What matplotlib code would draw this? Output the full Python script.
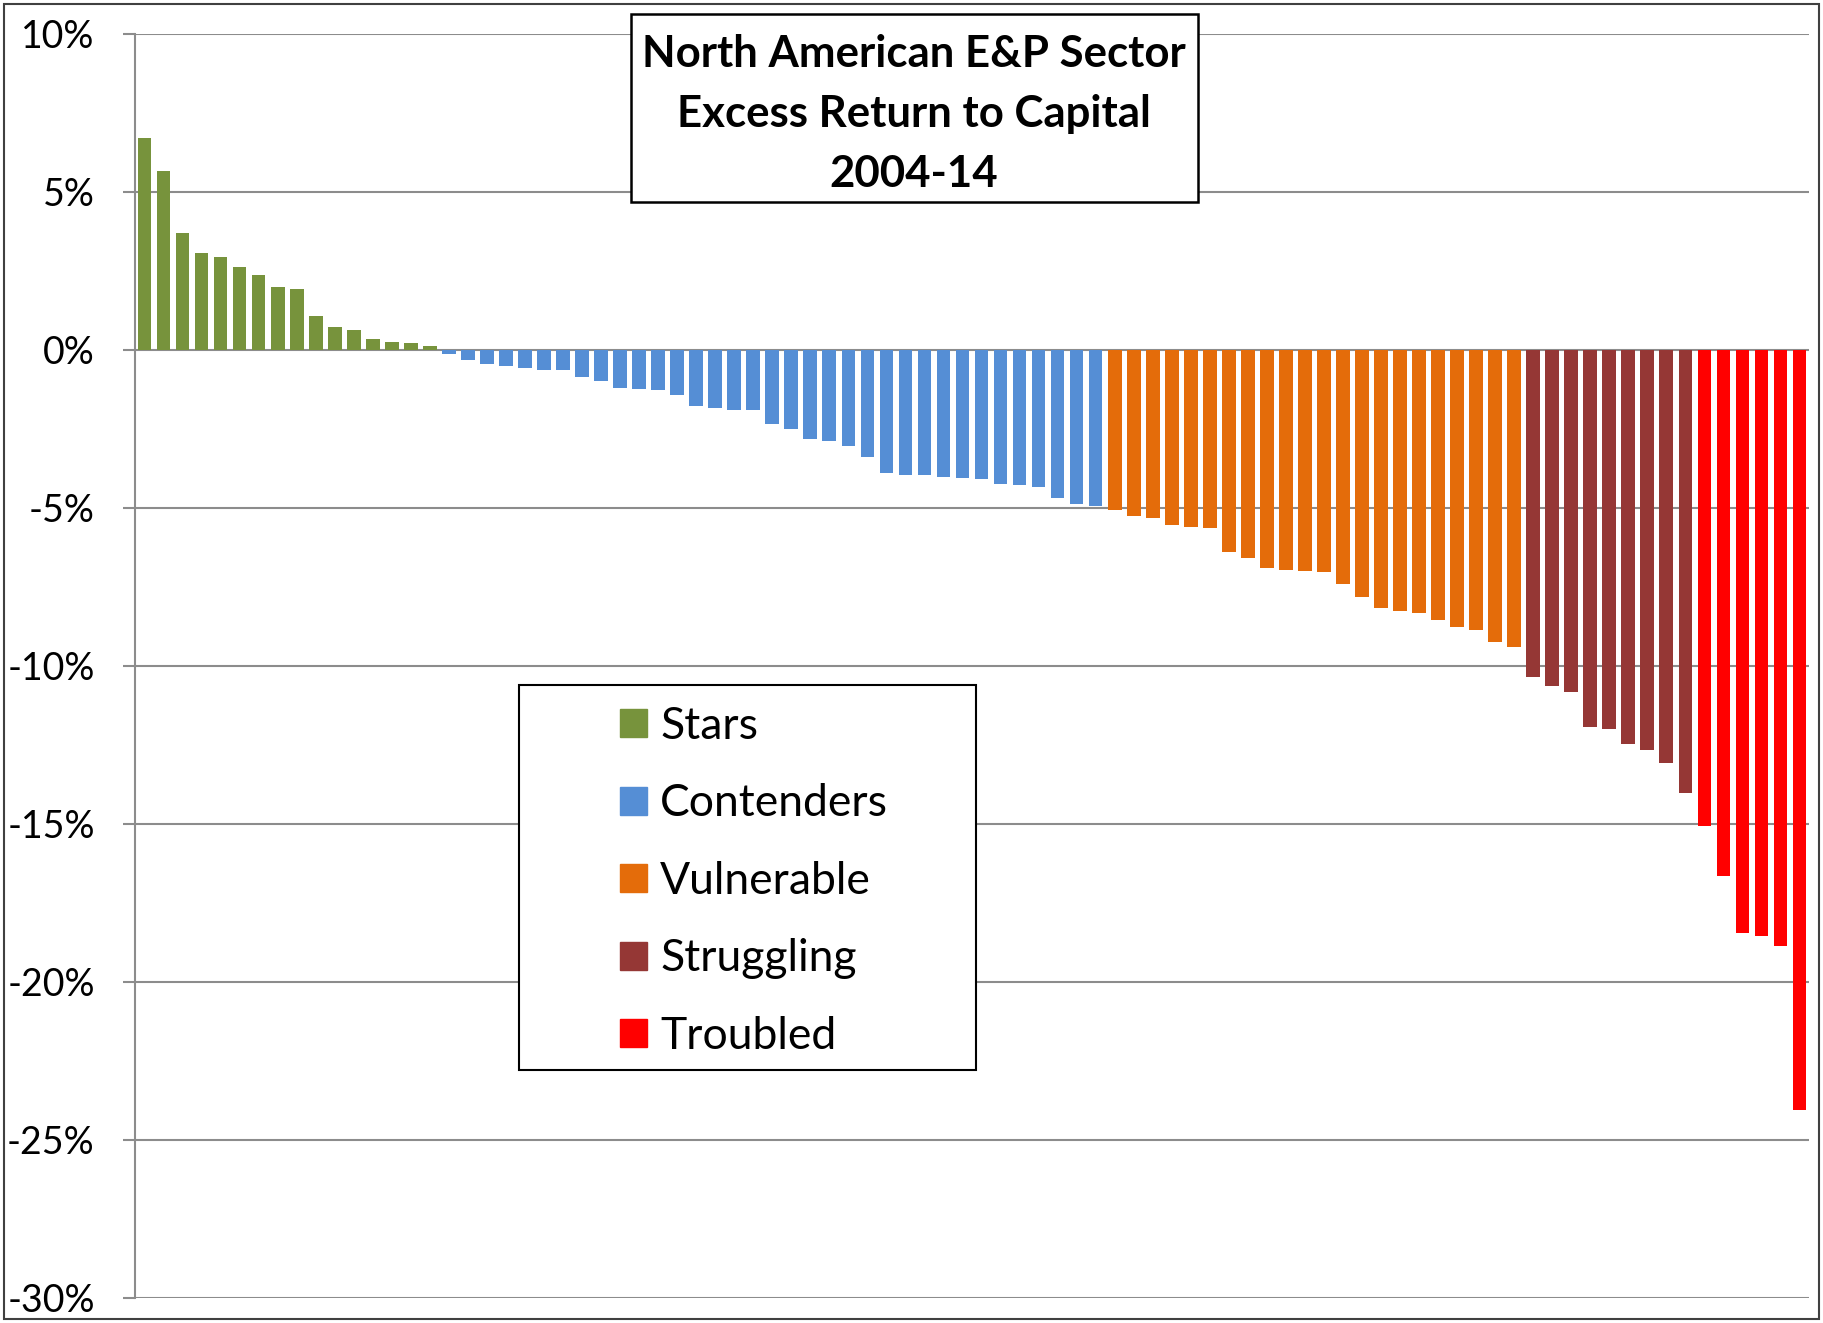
import matplotlib.pyplot as plt
import matplotlib.patches as mpatches
import numpy as np

plt.rcParams['font.family'] = ['Lato', 'DejaVu Sans']
plt.rcParams['axes.unicode_minus'] = False

# excess return to capital (%), sorted, per group
stars = [6.71, 5.65, 3.71, 3.07, 2.93, 2.64, 2.37, 1.98, 1.92, 1.09, 0.73, 0.63,
         0.34, 0.25, 0.22, 0.14]
contenders = [-0.14, -0.33, -0.44, -0.52, -0.56, -0.63, -0.64, -0.85, -0.97, -1.21,
              -1.22, -1.25, -1.42, -1.77, -1.85, -1.90, -1.91, -2.35, -2.51, -2.82,
              -2.87, -3.03, -3.40, -3.90, -3.94, -3.97, -4.02, -4.06, -4.09, -4.25,
              -4.28, -4.35, -4.67, -4.86, -4.93]
vulnerable = [-5.06, -5.25, -5.31, -5.54, -5.61, -5.64, -6.39, -6.58, -6.89, -6.95,
              -6.99, -7.04, -7.42, -7.83, -8.16, -8.26, -8.32, -8.55, -8.76, -8.87,
              -9.25, -9.41]
struggling = [-10.36, -10.62, -10.81, -11.94, -11.98, -12.48, -12.67, -13.07, -14.03]
troubled = [-15.07, -16.66, -18.46, -18.54, -18.85, -24.05]

groups = ['Stars', 'Contenders', 'Vulnerable', 'Struggling', 'Troubled']
group_vals = [stars, contenders, vulnerable, struggling, troubled]
colors = ['#77933C', '#558ED5', '#E46C0A', '#953735', '#FF0000']

yticks = [10, 5, 0, -5, -10, -15, -20, -25, -30]

fig = plt.figure(figsize=(18.23, 13.23), dpi=100)
ax = fig.add_axes([135 / 1823, 1 - 1298 / 1323, (1809 - 135) / 1823, (1298 - 34) / 1323])

start = 0
handles = []
for name, vals, c in zip(groups, group_vals, colors):
    x = np.arange(start, start + len(vals))
    ax.bar(x, vals, width=0.72, color=c, zorder=3, label=name)
    handles.append(mpatches.Patch(color=c, label=name))
    start += len(vals)

ax.set_xlim(-0.5, start - 0.5)
ax.set_ylim(-30, 10)
ax.set_yticks(yticks)
ax.set_yticklabels([f"{v}%" for v in yticks], fontsize=27)
ax.set_xticks([])
ax.yaxis.grid(True, color='#8C8C8C', linewidth=1.5, zorder=0)
ax.tick_params(axis='y', length=9, width=1.5, color='#8C8C8C', pad=20)
for s in ['top', 'right', 'bottom']:
    ax.spines[s].set_visible(False)
ax.spines['left'].set_color('#8C8C8C')
ax.spines['left'].set_linewidth(1.5)

# title box
tbox = mpatches.Rectangle((631 / 1823, 1 - 202 / 1323), 567 / 1823, 188 / 1323,
                          transform=fig.transFigure, facecolor='white', edgecolor='black',
                          linewidth=1.8, zorder=5)
fig.add_artist(tbox)
fig.text(914 / 1823, 1 - 114 / 1323, "North American E&P Sector\nExcess Return to Capital\n2004-14",
         ha='center', va='center', fontsize=31.5, fontweight='bold', linespacing=1.6, zorder=6)

# legend box
lbox = mpatches.Rectangle((519 / 1823, 1 - 1070 / 1323), 457 / 1823, 385 / 1323,
                          transform=fig.transFigure, facecolor='white', edgecolor='black',
                          linewidth=1.5, zorder=5)
fig.add_artist(lbox)
leg = fig.legend(handles=handles, loc='upper left', bbox_to_anchor=(580 / 1823, 1 - 666 / 1323),
                 frameon=False, fontsize=32, handlelength=0.6, handleheight=0.6,
                 handletextpad=0.3, labelspacing=0.82)
leg.set_zorder(6)

# outer border
fig.add_artist(mpatches.Rectangle((0.002, 0.003), 0.996, 0.994, transform=fig.transFigure,
                                  fill=False, edgecolor='#404040', linewidth=1.5))

plt.savefig('out.png')
